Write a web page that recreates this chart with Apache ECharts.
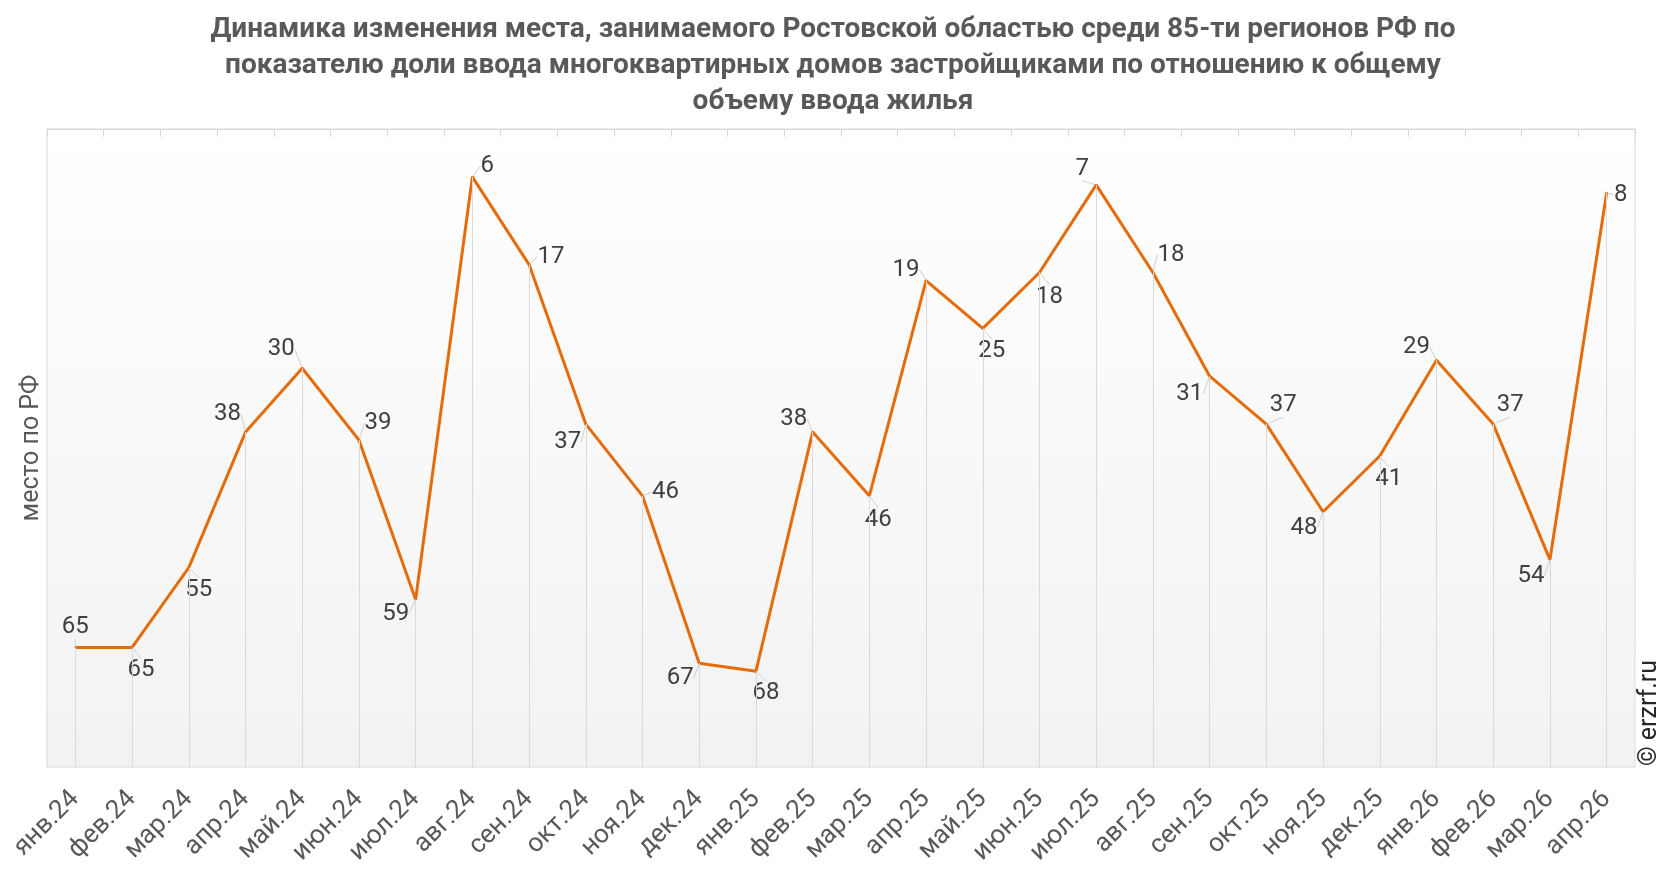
<!DOCTYPE html>
<html>
<head>
<meta charset="utf-8">
<script src="https://cdn.jsdelivr.net/npm/echarts@6/dist/echarts.min.js"></script>
<style>
  html, body { margin: 0; padding: 0; background: #fff; }
  #chart1 { width: 1666px; height: 872px; }
</style>
</head>
<body>
<div id="chart1"></div>
<script>
// месяцы
var months = ['янв.24','фев.24','мар.24','апр.24','май.24','июн.24','июл.24','авг.24','сен.24','окт.24','ноя.24','дек.24',
  'янв.25','фев.25','мар.25','апр.25','май.25','июн.25','июл.25','авг.25','сен.25','окт.25','ноя.25','дек.25',
  'янв.26','фев.26','мар.26','апр.26'];
// место по РФ
var places = [65, 65, 55, 38, 30, 39, 59, 6, 17, 37, 46, 67,
  68, 38, 46, 19, 25, 18, 7, 18, 31, 37, 48, 41,
  29, 37, 54, 8];
var rankMin = 0;
var rankMax = 80;

// сдвиг подписей относительно точки (px)
var labelShift = [[0,-20],[9,23],[10,22],[-18,-18],[-21,-19],[19,-17],[-20,14],[15,-11],[22,-8],[-18,18],[23,-4],[-19,15],
  [10,22],[-19,-13],[9,24],[-20,-11],[9,23],[10,24],[-14,-16],[18,-18],[-20,18],[17,-19],[-19,16],[9,23],
  [-20,-13],[17,-19],[-19,16],[14,2]];

var myChart1 = echarts.init(document.getElementById('chart1'));

var option = {
  backgroundColor: '#ffffff',
  textStyle: { fontFamily: 'Roboto' },
  title: {
    text: 'Динамика изменения места, занимаемого Ростовской областью среди 85-ти регионов РФ по\nпоказателю доли ввода многоквартирных домов застройщиками по отношению к общему\nобъему ввода жилья',
    left: 'center',
    top: 7,
    textStyle: { fontSize: 28, fontWeight: 'bold', color: '#595959', lineHeight: 36, fontFamily: 'Roboto', align: 'center' }
  },
  grid: {
    left: 47, right: 31, top: 129, bottom: 105,
    show: true,
    borderColor: '#d9d9d9',
    borderWidth: 1,
    backgroundColor: new echarts.graphic.LinearGradient(0, 0, 0, 1, [
      { offset: 0, color: '#ffffff' },
      { offset: 1, color: '#f2f2f2' }
    ])
  },
  xAxis: {
    type: 'category',
    data: months,
    boundaryGap: true,
    axisLine: { lineStyle: { color: '#d9d9d9', width: 1 } },
    axisTick: { show: true, length: 8, lineStyle: { color: '#d9d9d9' } },
    axisLabel: { rotate: 45, interval: 0, margin: 28, fontSize: 26, color: '#595959', fontFamily: 'Roboto' },
    splitLine: { show: false }
  },
  yAxis: {
    type: 'value',
    inverse: true,
    min: rankMin,
    max: rankMax,
    name: 'место по РФ',
    nameLocation: 'middle',
    nameGap: 3,
    nameTextStyle: { fontSize: 25, color: '#595959', fontFamily: 'Roboto' },
    axisLine: { show: false },
    axisTick: { show: false },
    axisLabel: { show: false },
    splitLine: { show: false }
  },
  graphic: [{
    type: 'text',
    x: 1650,
    y: 713,
    rotation: Math.PI / 2,
    style: {
      text: '© erzrf.ru',
      fontSize: 25,
      fontFamily: 'Roboto',
      fill: '#262626',
      textAlign: 'center',
      textVerticalAlign: 'middle'
    }
  }],
  series: [{
    name: 'место',
    type: 'line',
    data: places,
    symbol: 'circle',
    symbolSize: 2,
    showSymbol: true,
    itemStyle: { color: '#e46c0a' },
    lineStyle: { color: '#e46c0a', width: 3 },
    z: 3,
    label: {
      show: true,
      position: 'top',
      fontSize: 24,
      color: '#404040',
      fontFamily: 'Roboto'
    },
    labelLine: {
      show: true,
      lineStyle: { color: '#cfcfcf', width: 1 }
    },
    labelLayout: function (params) {
      var s = labelShift[params.dataIndex] || [0, -20];
      var cx = params.rect.x + params.rect.width / 2;
      var cy = params.rect.y + params.rect.height / 2;
      return { x: cx + s[0], y: cy + s[1], align: 'center', verticalAlign: 'middle' };
    },
    markLine: {
      silent: true,
      symbol: 'none',
      animation: false,
      label: { show: false },
      lineStyle: { color: '#d9d9d9', width: 1, type: 'solid' },
      data: places.map(function (v, i) {
        return [{ coord: [i, v] }, { coord: [i, rankMax] }];
      })
    }
  }]
};

myChart1.setOption(option);
</script>
</body>
</html>
